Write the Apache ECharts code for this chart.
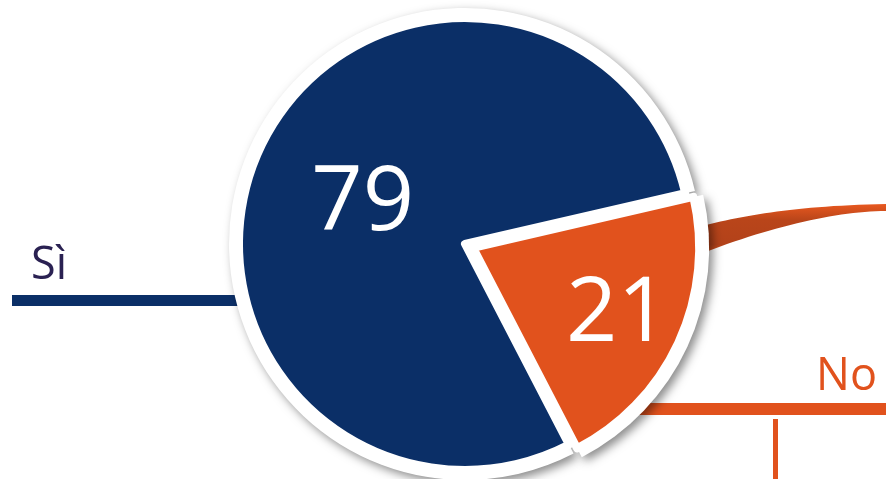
<!DOCTYPE html>
<html>
<head>
<meta charset="utf-8">
<script src="https://cdn.jsdelivr.net/npm/echarts@6/dist/echarts.min.js"></script>
<style>
  html, body { margin: 0; padding: 0; background: #ffffff; }
  #chart { width: 886px; height: 479px; }
</style>
</head>
<body>
<div id="chart"></div>
<script>
// Survey answers and their shares (%)
const categories = ['Sì', 'No'];
const values = [79, 21];
const sliceColors = ['#0b2f67', '#e1521d'];
const textColors = ['#2a2152', '#e1521d'];

const CENTER = [465, 244];
const FONT = '"Open Sans", "Noto Sans", sans-serif';

// Nudge of each value label away from its slice's "inside" anchor
const labelShift = [[3, 9], [39, 19]];

// Sample a cubic bezier into points for the swoosh outline
function cubic(p0, p1, p2, p3, n) {
  const pts = [];
  for (let k = 0; k <= n; k++) {
    const t = k / n, u = 1 - t;
    pts.push([
      u * u * u * p0[0] + 3 * u * u * t * p1[0] + 3 * u * t * t * p2[0] + t * t * t * p3[0],
      u * u * u * p0[1] + 3 * u * u * t * p1[1] + 3 * u * t * t * p2[1] + t * t * t * p3[1]
    ]);
  }
  return pts;
}
const swooshTop = cubic([690, 229], [740, 216], [790, 206], [886, 204], 30);
const swooshBottom = cubic([886, 211], [835, 211], [765, 228], [690, 258], 30);
const swooshPoints = swooshTop.concat(swooshBottom);

const chart = echarts.init(document.getElementById('chart'), null, { renderer: 'canvas' });

const pieCommon = {
  type: 'pie',
  center: CENTER,
  startAngle: 13,
  clockwise: false,
  selectedMode: 'single',
  selectedOffset: 9,
  avoidLabelOverlap: false,
  silent: true,
  emphasis: { disabled: true },
  labelLine: { show: false }
};

chart.setOption({
  animation: false,
  backgroundColor: '#ffffff',
  graphic: [
    // leader bar under the "Sì" caption
    { type: 'rect', z: 0, shape: { x: 12, y: 295, width: 232, height: 11 },
      style: { fill: sliceColors[0] } },
    { type: 'text', z: 1, style: { x: 31, y: 266, text: categories[0], fill: textColors[0],
      font: '45px ' + FONT, verticalAlign: 'middle', textAlign: 'left' } },
    // leader bar and tick under the "No" caption
    { type: 'rect', z: 0, shape: { x: 620, y: 403, width: 266, height: 12 },
      style: { fill: sliceColors[1] } },
    { type: 'rect', z: 0, shape: { x: 773, y: 419, width: 5, height: 60 },
      style: { fill: sliceColors[1] } },
    { type: 'text', z: 1, style: { x: 816, y: 377, text: categories[1], fill: textColors[1],
      font: '45px ' + FONT, verticalAlign: 'middle', textAlign: 'left' } },
    // orange swoosh leaving the pie
    { type: 'polygon', z: 0,
      shape: { points: swooshPoints },
      style: {
        fill: new echarts.graphic.LinearGradient(0, 0, 0, 1, [
          { offset: 0, color: '#e8581f' }, { offset: 0.3, color: '#b9451a' },
          { offset: 0.75, color: '#b3421a' }, { offset: 1, color: '#e8581f' } ])
      } }
  ],
  series: [
    // white rim with drop shadow behind the coloured slices
    Object.assign({}, pieCommon, {
      z: 2,
      radius: 236,
      label: { show: false },
      itemStyle: { color: '#ffffff', shadowBlur: 10, shadowColor: 'rgba(0,0,0,0.45)',
                   shadowOffsetX: 4, shadowOffsetY: 4 },
      select: { itemStyle: { color: '#ffffff' } },
      data: categories.map((name, i) => ({ name, value: values[i], selected: i === 1 }))
    }),
    // coloured slices with their values
    Object.assign({}, pieCommon, {
      z: 3,
      radius: 226,
      itemStyle: { borderColor: '#ffffff', borderWidth: 8 },
      label: {
        show: true, position: 'inside', formatter: '{c}',
        color: '#ffffff', fontSize: 90, fontFamily: FONT, fontWeight: 'normal'
      },
      labelLayout: (params) => ({ dx: labelShift[params.dataIndex][0], dy: labelShift[params.dataIndex][1] }),
      data: categories.map((name, i) => ({
        name, value: values[i], selected: i === 1,
        itemStyle: { color: sliceColors[i] },
        select: { itemStyle: { color: sliceColors[i], borderColor: '#ffffff', borderWidth: 8 } }
      }))
    })
  ]
});
</script>
</body>
</html>
